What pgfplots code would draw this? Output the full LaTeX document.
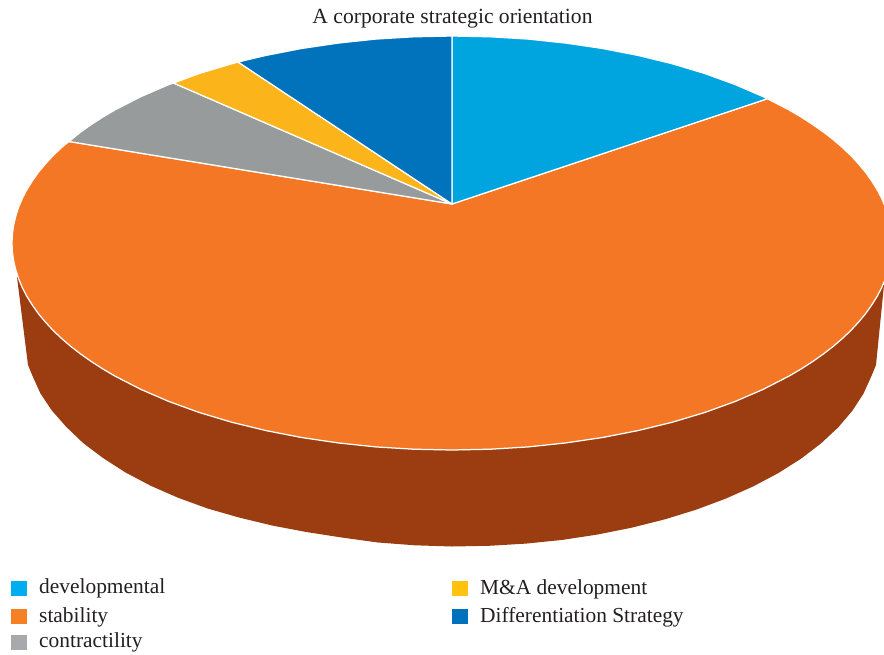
\documentclass[border=0pt]{standalone}
\usepackage{pgfplots}
\pgfplotsset{compat=1.18}
\usepackage{fontspec}
\setmainfont{Liberation Serif}
\definecolor{devblue}{HTML}{00A5DF}
\definecolor{stabor}{HTML}{F47725}
\definecolor{staside}{HTML}{9C3D11}
\definecolor{congray}{HTML}{989B9B}
\definecolor{mayel}{HTML}{FBB41A}
\definecolor{difblue}{HTML}{0073BC}
\definecolor{keydev}{HTML}{00AEEF}
\definecolor{keysta}{HTML}{F58025}
\definecolor{keycon}{HTML}{A7A9AC}
\definecolor{keyma}{HTML}{FFC20E}
\definecolor{keydif}{HTML}{0072BC}
\definecolor{ink}{HTML}{231F20}
\tikzset{keytext/.style={anchor=base west, text=ink, font=\fontsize{21.4}{25}\selectfont, inner sep=0pt}}
\begin{document}
\begin{tikzpicture}
% the page is exactly the plot box
\path[use as bounding box] (0,0) rectangle (884pt,654pt);
\begin{axis}[
  at={(0,0)}, anchor=south west,
  scale only axis, width=884pt, height=654pt,
  xmin=0, xmax=884, ymin=0, ymax=654, y dir=reverse,
  hide axis,
  slice/.style={fill=#1, draw=white, line width=1.25pt, line join=round},
  key/.style={fill=#1, draw=none},
]
% side wall of the disc, drawn first so the top surface overlaps it
\addplot[fill=staside, draw=none] coordinates {
  (884,285) (876,365) (871.5,375.9) (863.5,393.6) (852.3,410.8) (838.1,427.5)
  (820.9,443.5) (801,458.7) (778.3,473.1) (753.2,486.4) (725.8,498.6) (696.4,509.6)
  (665,519.3) (632,527.6) (597.7,534.5) (562.3,539.9) (526,543.6) (489.1,545.8)
  (452,546.5) (414.9,545.3) (378,542.5) (341.7,537.5) (306.3,532) (272,525.5)
  (239,517.5) (207.6,508.5) (178.2,497.8) (150.8,485.8) (125.7,472.6) (103,458)
  (83.1,443) (65.9,426.5) (51.7,410.3) (40.5,393.6) (32.5,375.9) (28,365) (17,277)
} --cycle;
% stability
\addplot[slice=stabor] coordinates {
  (452,204) (767.4,98.7) (789,109.9) (801.1,117) (812.4,124.3) (823.1,131.8) (833.1,139.5)
  (842.3,147.4) (850.8,155.5) (858.5,163.8) (865.5,172.2) (871.6,180.8) (877,189.4)
  (881.6,198.2) (885.3,207.1) (890.3,224.9) (892,243) (890.3,261.1)
  (885.3,278.9) (881.6,287.8) (877,296.6) (871.6,305.2) (865.5,313.8) (858.5,322.2)
  (850.8,330.5) (842.3,338.6) (833.1,346.5) (823.1,354.2) (812.4,361.7) (801.1,369)
  (789,376.1) (763.1,389.4) (734.8,401.6) (704.4,412.6) (672,422.3) (637.9,430.6)
  (602.5,437.5) (565.9,442.9) (528.4,446.9) (490.4,449.2) (452,450) (413.6,449.2)
  (375.6,446.9) (338.1,442.9) (301.5,437.5) (266.1,430.6) (232,422.3) (199.6,412.6)
  (169.2,401.6) (140.9,389.4) (115,376.1) (102.9,369) (91.6,361.7) (80.9,354.2)
  (70.9,346.5) (61.7,338.6) (53.2,330.5) (45.5,322.2) (38.5,313.8) (32.4,305.2)
  (27,296.6) (22.4,287.8) (18.7,278.9) (15.8,270) (13.7,261.1) (12.4,252) (12,243)
  (12.4,234) (13.7,224.9) (15.8,216) (18.7,207.1) (22.4,198.2) (27,189.4) (32.4,180.8)
  (38.5,172.2) (45.5,163.8) (53.2,155.5) (61.7,147.4) (69,141.5)
} --cycle;
% developmental
\addplot[slice=devblue] coordinates {
  (452,204) (452,36) (490.4,36.8) (528.4,39.1) (565.9,43.1) (602.5,48.5) (637.9,55.4)
  (672,63.7) (704.4,73.4) (734.8,84.4) (763.1,96.6) (767.4,98.7)
} --cycle;
% contractility
\addplot[slice=congray] coordinates {
  (452,204) (69,141.5) (80.9,131.8) (91.6,124.3) (102.9,117) (115,109.9) (140.9,96.6)
  (169.2,84.4) (173.5,83)
} --cycle;
% M&A development
\addplot[slice=mayel] coordinates {
  (452,204) (173.5,83) (199.6,73.4) (232,63.7) (238,62)
} --cycle;
% differentiation strategy
\addplot[slice=difblue] coordinates {
  (452,204) (238,62) (266.1,55.4) (301.5,48.5) (338.1,43.1) (375.6,39.1) (413.6,36.8) (452,36)
} --cycle;
% legend keys
\addplot[key=keydev] coordinates {(11,581) (27,581) (27,596) (11,596)} --cycle;
\addplot[key=keysta] coordinates {(11,609) (27,609) (27,624) (11,624)} --cycle;
\addplot[key=keycon] coordinates {(11,635) (27,635) (27,650) (11,650)} --cycle;
\addplot[key=keyma] coordinates {(452,581) (468,581) (468,596) (452,596)} --cycle;
\addplot[key=keydif] coordinates {(452,609) (468,609) (468,624) (452,624)} --cycle;
% title and legend labels
\node[anchor=base, text=ink, font=\fontsize{21.6}{25}\selectfont, inner sep=0pt] at (axis cs:452.5,23) {A corporate strategic orientation};
\node[keytext] at (axis cs:39,593) {developmental};
\node[keytext] at (axis cs:39,622) {stability};
\node[keytext] at (axis cs:39,647) {contractility};
\node[keytext] at (axis cs:480,594) {M\&A development};
\node[keytext] at (axis cs:480,622) {Differentiation Strategy};
\end{axis}
\end{tikzpicture}
\end{document}
